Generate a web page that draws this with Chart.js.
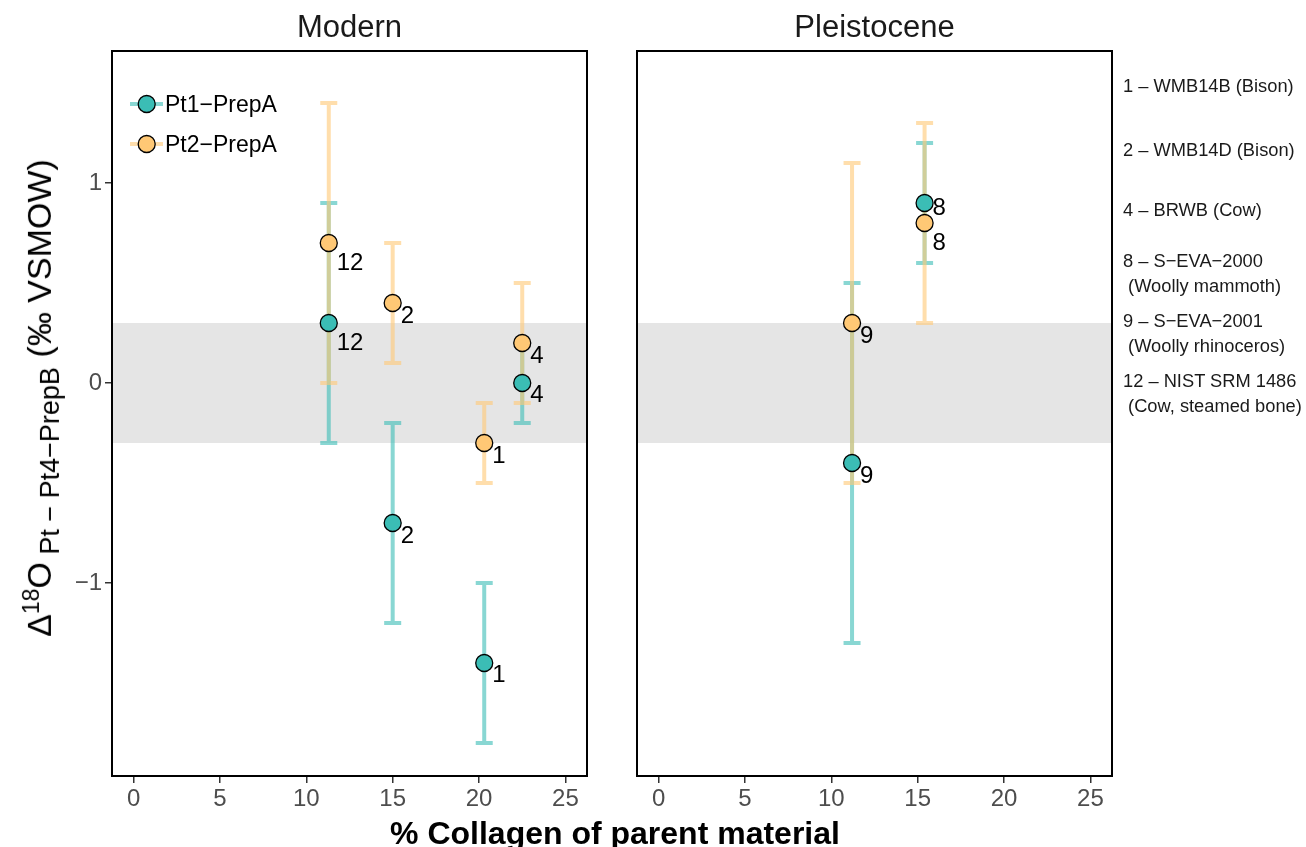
<!DOCTYPE html>
<html>
<head>
<meta charset="utf-8">
<script src="https://cdn.jsdelivr.net/npm/chart.js@4.4.0/dist/chart.umd.min.js"></script>
<style>
body { margin: 0; background: #fff; font-family: "Liberation Sans", Arial, sans-serif; }
#wrap { position: relative; width: 1306px; height: 847px; overflow: hidden; }
canvas { position: absolute; top: 0; }
.t { position: absolute; white-space: nowrap; color: #1a1a1a; line-height: 1; }
.note { font-size: 18.3px; left: 1123px; }
</style>
</head>
<body>
<div id="wrap">
  <canvas id="modern" width="600" height="847" style="left:0"></canvas>
  <canvas id="pleist" width="706" height="847" style="left:600px"></canvas>

  <div class="t" style="left:349.5px;top:11px;font-size:31px;transform:translateX(-50%)">Modern</div>
  <div class="t" style="left:874.5px;top:11px;font-size:31px;transform:translateX(-50%)">Pleistocene</div>
  <div class="t" style="left:615px;top:817px;font-size:32px;font-weight:bold;color:#000;transform:translateX(-50%)">% Collagen of parent material</div>
  <div class="t" style="left:42px;top:398px;font-size:34px;color:#000;transform:translate(-50%,-50%) rotate(-90deg)">&Delta;<sup style="font-size:23px">18</sup>O<sub style="font-size:27px"> Pt &minus; Pt4&minus;PrepB</sub> (&permil; VSMOW)</div>

  <div class="t note" style="top:77px">1 – WMB14B (Bison)</div>
  <div class="t note" style="top:141px">2 – WMB14D (Bison)</div>
  <div class="t note" style="top:201px">4 – BRWB (Cow)</div>
  <div class="t note" style="top:252px">8 – S−EVA−2000</div>
  <div class="t note" style="top:277px">&nbsp;(Woolly mammoth)</div>
  <div class="t note" style="top:312px">9 – S−EVA−2001</div>
  <div class="t note" style="top:337px">&nbsp;(Woolly rhinoceros)</div>
  <div class="t note" style="top:372px">12 – NIST SRM 1486</div>
  <div class="t note" style="top:397px">&nbsp;(Cow, steamed bone)</div>
</div>

<script>
// axis
var xTicks = [0, 5, 10, 15, 20, 25];
var yTicks = [-1, 0, 1];
var xMin = -1.25, xMax = 26.25;
var yMin = -1.965, yMax = 1.66;
var bandLo = -0.3, bandHi = 0.3;

// Modern samples
var modernIds = ["12", "2", "1", "4"];
var modernCollagen = [11.3, 15.0, 20.3, 22.5];
var modernPt1 = [0.3, -0.7, -1.4, 0.0];
var modernPt1Lo = [-0.3, -1.2, -1.8, -0.2];
var modernPt1Hi = [0.9, -0.2, -1.0, 0.2];
var modernPt2 = [0.7, 0.4, -0.3, 0.2];
var modernPt2Lo = [0.0, 0.1, -0.5, -0.1];
var modernPt2Hi = [1.4, 0.7, -0.1, 0.5];

// Pleistocene samples
var pleistIds = ["9", "8"];
var pleistCollagen = [11.2, 15.4];
var pleistPt1 = [-0.4, 0.9];
var pleistPt1Lo = [-1.3, 0.6];
var pleistPt1Hi = [0.5, 1.2];
var pleistPt2 = [0.3, 0.8];
var pleistPt2Lo = [-0.5, 0.3];
var pleistPt2Hi = [1.1, 1.3];

var seriesNames = ["Pt1\u2212PrepA", "Pt2\u2212PrepA"];
var fill = ["#3bbdb5", "#ffc875"];
var barCol = ["rgba(59,189,181,0.6)", "rgba(255,200,117,0.6)"];

// label nudges (repelled labels), px below point
var modernNudge = [[18.5, 11, 10, 10], [18, 11.5, 11, 11.5]];
var pleistNudge = [[11.4, 3], [11, 18]];

var FONT = '"Liberation Sans", Arial, sans-serif';

function pts(xs, ys) {
  return xs.map(function (x, i) { return { x: x, y: ys[i] }; });
}

var panelPlugin = {
  id: 'panel',
  beforeDatasetsDraw: function (chart) {
    var c = chart.ctx, a = chart.chartArea, ys = chart.scales.y, xs = chart.scales.x;
    c.save();
    c.fillStyle = '#e5e5e5';
    var t = ys.getPixelForValue(bandHi), b = ys.getPixelForValue(bandLo);
    c.fillRect(a.left, t, a.right - a.left, b - t);
    // error bars
    c.lineWidth = 4;
    c.lineCap = 'butt';
    chart.data.datasets.forEach(function (ds, k) {
      c.strokeStyle = barCol[k];
      ds.data.forEach(function (p, i) {
        var px = xs.getPixelForValue(p.x);
        var lo = ys.getPixelForValue(ds.errLo[i]), hi = ys.getPixelForValue(ds.errHi[i]);
        c.beginPath();
        c.moveTo(px, hi + 2); c.lineTo(px, lo - 2);
        c.moveTo(px - 8.5, hi); c.lineTo(px + 8.5, hi);
        c.moveTo(px - 8.5, lo); c.lineTo(px + 8.5, lo);
        c.stroke();
      });
    });
    c.restore();
  },
  afterDatasetsDraw: function (chart, args, opts) {
    var c = chart.ctx, a = chart.chartArea, ys = chart.scales.y, xs = chart.scales.x;
    c.save();
    c.fillStyle = '#000';
    c.font = '24px ' + FONT;
    c.textBaseline = 'alphabetic';
    chart.data.datasets.forEach(function (ds, k) {
      ds.data.forEach(function (p, i) {
        var px = xs.getPixelForValue(p.x), py = ys.getPixelForValue(p.y);
        c.fillText(ds.ids[i], px + 8, py + ds.nudge[i] + 8.5);
      });
    });
    // panel border
    c.strokeStyle = '#000';
    c.lineWidth = 2;
    c.strokeRect(a.left, a.top, a.right - a.left, a.bottom - a.top);
    // legend
    if (opts.legend) {
      [104, 144].forEach(function (ly, k) {
        c.strokeStyle = barCol[k];
        c.lineWidth = 4;
        c.beginPath(); c.moveTo(130, ly); c.lineTo(163, ly); c.stroke();
        c.beginPath(); c.arc(146.7, ly, 8.5, 0, Math.PI * 2);
        c.fillStyle = fill[k]; c.fill();
        c.lineWidth = 1.3; c.strokeStyle = '#000'; c.stroke();
        c.fillStyle = '#000';
        c.font = '23px ' + FONT;
        c.fillText(seriesNames[k], 165, ly + 8.2);
      });
    }
    c.restore();
  }
};

function minus(v) { return v < 0 ? '\u2212' + Math.abs(v) : String(v); }

function makeChart(id, ids, xs, p1, p1lo, p1hi, p2, p2lo, p2hi, nudge, pad, showY, legend) {
  return new Chart(document.getElementById(id), {
    type: 'scatter',
    data: {
      datasets: [
        { label: seriesNames[0], data: pts(xs, p1), errLo: p1lo, errHi: p1hi, ids: ids, nudge: nudge[0],
          pointRadius: 8.5, pointBackgroundColor: fill[0], pointBorderColor: '#000', pointBorderWidth: 1.3 },
        { label: seriesNames[1], data: pts(xs, p2), errLo: p2lo, errHi: p2hi, ids: ids, nudge: nudge[1],
          pointRadius: 8.5, pointBackgroundColor: fill[1], pointBorderColor: '#000', pointBorderWidth: 1.3 }
      ]
    },
    options: {
      responsive: false,
      animation: false,
      layout: { padding: pad },
      plugins: { legend: { display: false }, tooltip: { enabled: false }, panel: { legend: legend } },
      scales: {
        x: {
          type: 'linear', min: xMin, max: xMax,
          afterBuildTicks: function (s) { s.ticks = xTicks.map(function (v) { return { value: v }; }); },
          afterFit: function (s) { s.height = 40; },
          grid: { drawOnChartArea: false, drawTicks: true, tickLength: 7, color: '#333', lineWidth: 1.5 },
          border: { display: false },
          ticks: { color: '#4d4d4d', font: { size: 24, family: FONT }, padding: 2, maxRotation: 0 }
        },
        y: {
          type: 'linear', min: yMin, max: yMax, display: showY,
          afterBuildTicks: function (s) { s.ticks = yTicks.map(function (v) { return { value: v }; }); },
          afterFit: function (s) { s.width = showY ? 112 : 0; },
          grid: { drawOnChartArea: false, drawTicks: true, tickLength: 7, color: '#333', lineWidth: 1.5 },
          border: { display: false },
          ticks: { color: '#4d4d4d', font: { size: 24, family: FONT }, padding: 3, callback: minus }
        }
      }
    },
    plugins: [panelPlugin]
  });
}

makeChart('modern', modernIds, modernCollagen, modernPt1, modernPt1Lo, modernPt1Hi,
  modernPt2, modernPt2Lo, modernPt2Hi, modernNudge,
  { left: 0, right: 13, top: 51, bottom: 31 }, true, true);

makeChart('pleist', pleistIds, pleistCollagen, pleistPt1, pleistPt1Lo, pleistPt1Hi,
  pleistPt2, pleistPt2Lo, pleistPt2Hi, pleistNudge,
  { left: 37, right: 194, top: 51, bottom: 31 }, false, false);
</script>
</body>
</html>
